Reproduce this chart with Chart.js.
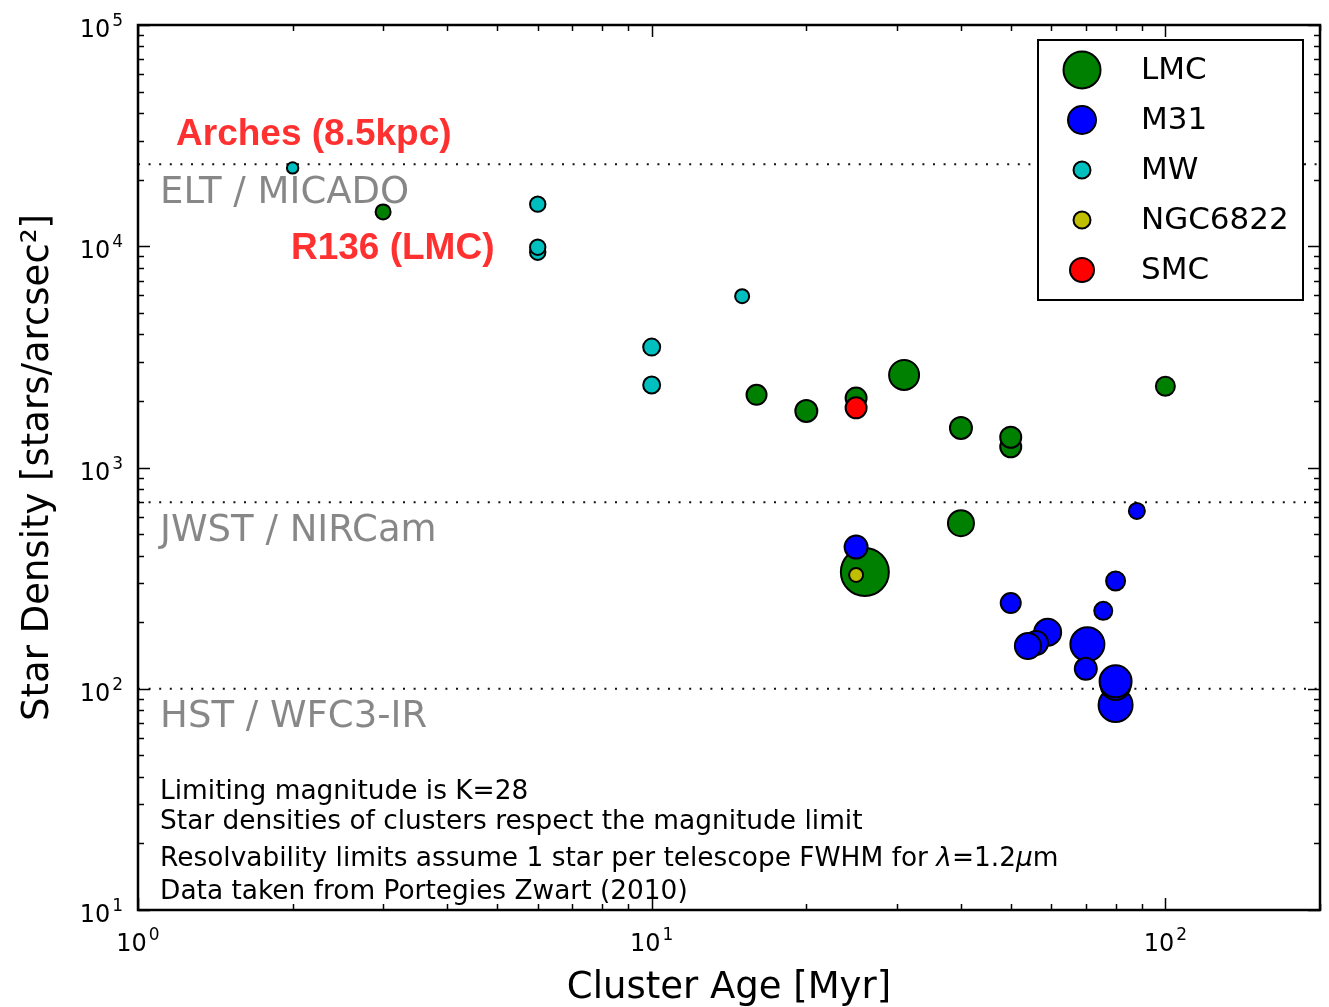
<!DOCTYPE html>
<html>
<head>
<meta charset="utf-8">
<script src="https://cdn.jsdelivr.net/npm/chart.js@4.4.0/dist/chart.umd.min.js"></script>
<style>
html,body{margin:0;padding:0;background:#ffffff;}
#wrap{width:1329px;height:1007px;position:relative;}
</style>
</head>
<body>
<div id="wrap"><canvas id="c" width="1329" height="1007"></canvas></div>
<script>
// ---------------- data ----------------
const xTickValues = [1, 10, 100];
const yTickValues = [10, 100, 1000, 10000, 100000];

const lmcAge     = [3, 16, 20, 25, 31, 40, 50, 50, 100, 40, 26];
const lmcDensity = [14300, 2130, 1800, 2060, 2620, 1510, 1240, 1370, 2330, 560, 337];
const lmcSize    = [7.5, 10, 11, 10.5, 15, 11, 10.5, 10.5, 9.5, 13, 24];

const m31Age     = [25, 88, 80, 75.7, 50, 59, 56, 54, 70.5, 70, 80, 80, 80];
const m31Density = [437, 636, 307, 225, 244, 180, 161, 156, 159, 123, 84.4, 104, 108];
const m31Size    = [11.5, 8, 9.5, 9, 10, 13.5, 12, 13, 17, 11, 17, 15, 16];

const mwAge      = [2, 6, 6, 6, 15, 10, 10];
const mwDensity  = [22600, 15500, 9400, 9900, 5950, 3500, 2360];
const mwSize     = [5.7, 7.7, 7.7, 7.7, 7, 8.5, 8.5];

const ngcAge     = [25];
const ngcDensity = [327];
const ngcSize    = [7];

const smcAge     = [25];
const smcDensity = [1860];
const smcSize    = [10.5];

const limitLevels = [23500, 696, 100];
const limitNames  = ['ELT / MICADO', 'JWST / NIRCam', 'HST / WFC3-IR'];
const limitSpan   = [1, 200];

const clusterNames = ['Arches (8.5kpc)', 'R136 (LMC)'];
const clusterNameAt = [[1.186, 32000], [1.985, 9720]];

const noteLines = [
  'Limiting magnitude is K=28',
  'Star densities of clusters respect the magnitude limit',
  ['Resolvability limits assume 1 star per telescope FWHM for ', {i:'λ'}, '=1.2', {i:'μ'}, 'm'],
  'Data taken from Portegies Zwart (2010)'
];
const noteAt = [[1.104, 34.1], [1.104, 25.0], [1.104, 17.0], [1.104, 12.06]];

// ---------------- helpers ----------------
function pts(xs, ys){ return xs.map((x, i) => ({x: x, y: ys[i]})); }
function expOf(v){ return Math.round(Math.log10(v)); }

const FONT = '"DejaVu Sans", "Bitstream Vera Sans", sans-serif';

function scatterSet(label, xs, ys, sizes, color, order, legendR){
  return {
    type: 'scatter', label: label, data: pts(xs, ys),
    backgroundColor: color, borderColor: '#000000', borderWidth: 2,
    pointRadius: sizes, pointHoverRadius: sizes, pointStyle: 'circle',
    order: order, legendRadius: legendR
  };
}

const datasets = [
  scatterSet('LMC', lmcAge, lmcDensity, lmcSize, '#008000', 10, 18.5),
  scatterSet('M31', m31Age, m31Density, m31Size, '#0000ff', 9, 14),
  scatterSet('MW', mwAge, mwDensity, mwSize, '#00bfbf', 8, 8.5),
  scatterSet('NGC6822', ngcAge, ngcDensity, ngcSize, '#bfbf00', 7, 8.5),
  scatterSet('SMC', smcAge, smcDensity, smcSize, '#ff0000', 6, 12)
];
limitLevels.forEach((lv, i) => {
  datasets.push({
    type: 'scatter', label: '__limit' + i, showLine: true,
    data: limitSpan.map(a => ({x: a, y: lv})),
    borderColor: '#111111', borderWidth: 2, borderDash: [2, 8.6],
    pointRadius: 0, pointHoverRadius: 0, order: 20, isLimit: true
  });
});

// draws "10" with a raised exponent, like matplotlib mathtext
function drawPow(ctx, v, px, py, align){
  const base = '10', ex = String(expOf(v));
  ctx.font = '24px ' + FONT;
  const wb = ctx.measureText(base).width;
  ctx.font = '17px ' + FONT;
  const we = ctx.measureText(ex).width;
  const gap = 2;
  const total = wb + gap + we;
  let x0 = align === 'center' ? px - total / 2 : px - total;
  ctx.textAlign = 'left';
  ctx.textBaseline = 'alphabetic';
  ctx.font = '24px ' + FONT;
  ctx.fillText(base, x0, py);
  ctx.font = '17px ' + FONT;
  ctx.fillText(ex, x0 + wb + gap, py - 11);
}

// ---------------- overlay plugin ----------------
const overlay = {
  id: 'overlay',
  afterDatasetsDraw(chart){
    const {ctx, chartArea: a, scales: {x, y}} = chart;
    ctx.save();

    // limit labels (grey)
    ctx.font = '37px ' + FONT;
    ctx.fillStyle = 'rgba(0,0,0,0.47)';
    ctx.textAlign = 'left';
    ctx.textBaseline = 'middle';
    limitLevels.forEach((lv, i) => {
      ctx.fillText(limitNames[i], x.getPixelForValue(1.104), y.getPixelForValue(lv) + 29);
    });

    // cluster names (red bold)
    ctx.font = 'bold 37px "Liberation Sans", Arial, sans-serif';
    ctx.fillStyle = '#ff3030';
    clusterNames.forEach((t, i) => {
      ctx.fillText(t, x.getPixelForValue(clusterNameAt[i][0]), y.getPixelForValue(clusterNameAt[i][1]));
    });

    // notes
    ctx.fillStyle = '#000000';
    noteLines.forEach((line, i) => {
      let px = x.getPixelForValue(noteAt[i][0]);
      const py = y.getPixelForValue(noteAt[i][1]);
      const parts = Array.isArray(line) ? line : [line];
      parts.forEach(p => {
        const italic = typeof p === 'object';
        const txt = italic ? p.i : p;
        ctx.font = (italic ? 'italic ' : '') + '26.4px ' + FONT;
        ctx.fillText(txt, px, py);
        px += ctx.measureText(txt).width;
      });
    });

    // legend
    const lx = 1038, ly = 40, lw = 265, lh = 260;
    ctx.fillStyle = '#ffffff';
    ctx.fillRect(lx, ly, lw, lh);
    ctx.lineWidth = 2;
    ctx.strokeStyle = '#000000';
    ctx.strokeRect(lx, ly, lw, lh);
    ctx.font = '31px ' + FONT;
    chart.data.datasets.filter(d => !d.isLimit).forEach((d, i) => {
      const cy = ly + 30 + i * 50;
      ctx.beginPath();
      ctx.arc(lx + 44, cy, d.legendRadius, 0, Math.PI * 2);
      ctx.fillStyle = d.backgroundColor;
      ctx.fill();
      ctx.lineWidth = 2;
      ctx.strokeStyle = '#000000';
      ctx.stroke();
      ctx.fillStyle = '#000000';
      ctx.textAlign = 'left';
      ctx.textBaseline = 'middle';
      ctx.fillText(d.label, lx + 103, cy + 1);
    });

    // minor / major ticks (inward, all sides)
    ctx.strokeStyle = '#000000';
    ctx.lineWidth = 1.5;
    const majL = 12, minL = 6;
    function vtick(px, len){
      ctx.beginPath();
      ctx.moveTo(px, a.bottom); ctx.lineTo(px, a.bottom - len);
      ctx.moveTo(px, a.top); ctx.lineTo(px, a.top + len);
      ctx.stroke();
    }
    function htick(py, len){
      ctx.beginPath();
      ctx.moveTo(a.left, py); ctx.lineTo(a.left + len, py);
      ctx.moveTo(a.right, py); ctx.lineTo(a.right - len, py);
      ctx.stroke();
    }
    for (let d = 1; d <= 100; d *= 10){
      for (let m = 1; m <= 9; m++){
        const v = d * m;
        if (v > x.max) continue;
        vtick(Math.round(x.getPixelForValue(v)) + 0.5, m === 1 ? majL : minL);
      }
    }
    for (let d = 10; d <= 100000; d *= 10){
      for (let m = 1; m <= 9; m++){
        const v = d * m;
        if (v > y.max) continue;
        htick(Math.round(y.getPixelForValue(v)) + 0.5, m === 1 ? majL : minL);
      }
    }
    // frame
    ctx.lineWidth = 2.5;
    ctx.strokeRect(a.left, a.top, a.right - a.left, a.bottom - a.top);

    // tick labels
    ctx.fillStyle = '#000000';
    x.ticks.forEach(t => drawPow(ctx, t.value, x.getPixelForValue(t.value), a.bottom + 41, 'center'));
    y.ticks.forEach(t => drawPow(ctx, t.value, a.left - 15, y.getPixelForValue(t.value) + 12, 'right'));
    ctx.restore();
  }
};

// ---------------- chart ----------------
new Chart(document.getElementById('c'), {
  type: 'scatter',
  data: { datasets: datasets },
  options: {
    responsive: false,
    animation: false,
    events: [],
    layout: { autoPadding: false, padding: { left: 0, right: 9, top: 25, bottom: 0 } },
    plugins: { legend: { display: false }, tooltip: { enabled: false } },
    scales: {
      x: {
        type: 'logarithmic', min: 1, max: 200,
        grid: { display: false }, border: { display: false },
        afterBuildTicks: s => { s.ticks = xTickValues.map(v => ({ value: v })); },
        ticks: { display: false, autoSkip: false, maxRotation: 0 },
        title: { display: true, text: 'Cluster Age [Myr]', color: '#000000',
                 font: { family: FONT, size: 37, lineHeight: 1 }, padding: { top: 0, bottom: 0 } },
        afterFit: s => { s.height = 97; s.paddingLeft = 0; s.paddingRight = 0; }
      },
      y: {
        type: 'logarithmic', min: 10, max: 100000,
        grid: { display: false }, border: { display: false },
        afterBuildTicks: s => { s.ticks = yTickValues.map(v => ({ value: v })); },
        ticks: { display: false, autoSkip: false },
        title: { display: true, text: 'Star Density [stars/arcsec²]', color: '#000000',
                 font: { family: FONT, size: 37 }, padding: { top: 16, bottom: 0 } },
        afterFit: s => { s.width = 138; s.paddingTop = 0; s.paddingBottom = 0; }
      }
    }
  },
  plugins: [overlay]
});
</script>
</body>
</html>
